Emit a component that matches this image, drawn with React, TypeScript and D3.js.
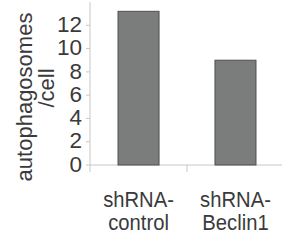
import React from "react";
import * as d3 from "d3";

const categories = ["shRNA-control", "shRNA-Beclin1"];
const labelLines = [["shRNA-", "control"], ["shRNA-", "Beclin1"]];
const values = [13.2, 9.0];
const yTicks = [0, 2, 4, 6, 8, 10, 12];
const yTitle = ["autophagosomes", "/cell"];

export default function App() {
  const W = 282, H = 243;
  const x0 = 90, x1 = 284, yBase = 165, yTop = 2;
  const x = d3.scaleBand<string>().domain(categories).range([x0, x1]).paddingInner(0.577).paddingOuter(0.289);
  const y = d3.scaleLinear().domain([0, 14]).range([yBase, yTop]);
  const step = x.step();
  const font = "'Liberation Sans', Arial, Helvetica, sans-serif";
  const textColor = "#3a3a3a";
  const axisColor = "#c8c8c8";
  return (
    <svg width={W} height={H} style={{ position: "absolute", left: 0, top: 0 }} fontFamily={font}>
      <rect width={W} height={H} fill="#fff" />
      {/* y axis */}
      <line x1={x0} x2={x0} y1={y(14)} y2={yBase + 7} stroke={axisColor} strokeWidth={1} />
      {yTicks.map((t) => (
        <g key={t}>
          <line x1={x0 - 4} x2={x0} y1={y(t)} y2={y(t)} stroke={axisColor} />
          <text x={82} y={y(t)} dy="0.3em" textAnchor="end" fontSize={22.5} fill={textColor}>{t}</text>
        </g>
      ))}
      {/* x axis */}
      <line x1={x0} x2={W} y1={yBase} y2={yBase} stroke={axisColor} />
      {categories.map((c, i) => (
        <line key={c} x1={x0 + step * (i + 1)} x2={x0 + step * (i + 1)} y1={yBase} y2={yBase + 7} stroke={axisColor} />
      ))}
      {/* bars */}
      {categories.map((c, i) => (
        <rect key={c} x={x(c)!} y={y(values[i])} width={x.bandwidth()} height={yBase - y(values[i])}
          fill="#7b7d7d" stroke="#4e4f4f" strokeWidth={1} />
      ))}
      {/* x labels */}
      {categories.map((c, i) => {
        const cx = x(c)! + x.bandwidth() / 2;
        return (
          <g key={c} transform={`translate(${cx},0) scale(0.92,1)`}>
            {labelLines[i].map((l, j) => (
              <text key={j} x={0} y={207 + j * 23} textAnchor="middle" fontSize={22} fill={textColor}>{l}</text>
            ))}
          </g>
        );
      })}
      {/* y title */}
      <text transform="translate(32,97) rotate(-90)" textAnchor="middle" fontSize={22} fill={textColor}>{yTitle[0]}</text>
      <text transform="translate(54,88) rotate(-90)" textAnchor="middle" fontSize={22} fill={textColor}>{yTitle[1]}</text>
    </svg>
  );
}
